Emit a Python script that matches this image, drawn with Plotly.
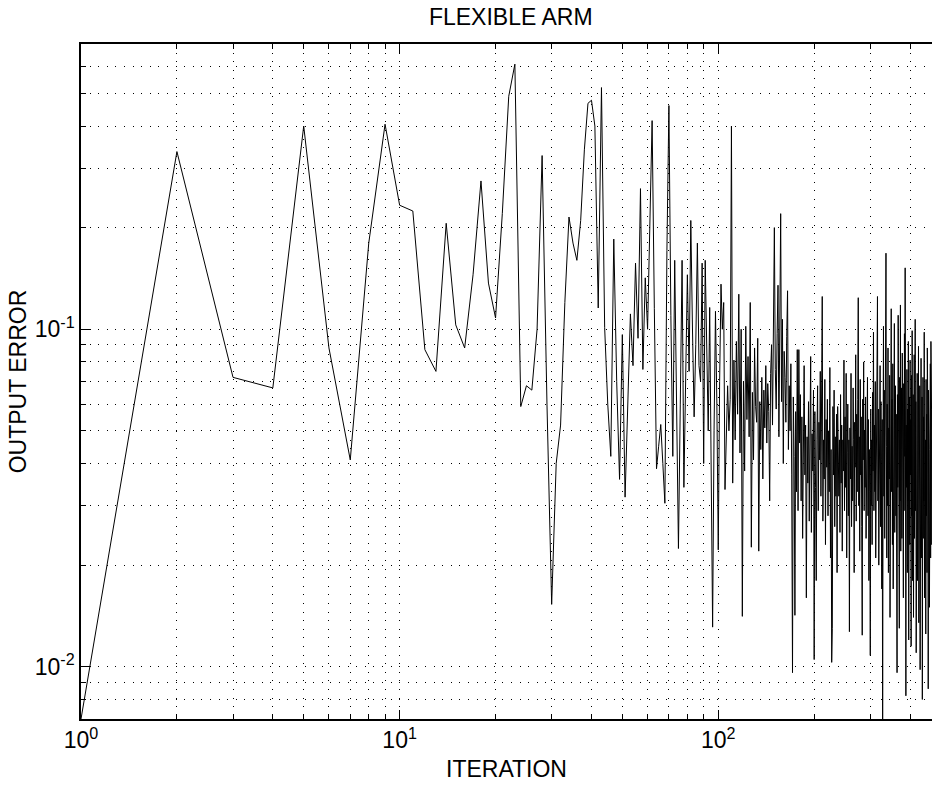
import plotly.graph_objs as go

# output error per iteration (iterations 1..470)
output_error = [
    # 1-10
    0.007, 0.336, 0.072, 0.067, 0.40, 0.088, 0.041, 0.18, 0.405, 0.233,
    0.224, 0.087, 0.075, 0.206, 0.103, 0.088, 0.145, 0.275, 0.137, 0.108,
    0.22, 0.49, 0.61, 0.059, 0.068, 0.066, 0.10, 0.327, 0.06, 0.0153,
    0.04, 0.052, 0.12, 0.215, 0.18, 0.16, 0.21, 0.34, 0.467, 0.477,
    # 41-50
    0.40, 0.1156, 0.52, 0.101, 0.06, 0.042, 0.185, 0.07, 0.0359, 0.0964,
    0.0318, 0.065, 0.111, 0.078, 0.157, 0.094, 0.261, 0.076, 0.142, 0.10,
    0.20, 0.415, 0.115, 0.0386, 0.045, 0.0522, 0.04, 0.0305, 0.171, 0.46,
    0.11, 0.042, 0.16, 0.06, 0.0224, 0.06, 0.16, 0.034, 0.07, 0.145,
    0.075, 0.21, 0.10, 0.055, 0.09, 0.18, 0.078, 0.07, 0.157, 0.040,
    # 91-100
    0.16, 0.09, 0.05, 0.116, 0.03, 0.0131, 0.05, 0.113, 0.06, 0.0222,
    0.07, 0.136, 0.10, 0.12, 0.0335, 0.05, 0.068, 0.05, 0.062, 0.40,
    0.035, 0.081, 0.047, 0.092, 0.056, 0.127, 0.043, 0.100, 0.0141, 0.070,
    0.038, 0.102, 0.054, 0.083, 0.048, 0.120, 0.0226, 0.065, 0.041, 0.088,
    0.059, 0.053, 0.094, 0.022, 0.061, 0.044, 0.072, 0.036, 0.066, 0.051,
    # 141-150
    0.078, 0.046, 0.069, 0.057, 0.031, 0.074, 0.090, 0.052, 0.118, 0.200,
    0.076, 0.058, 0.097, 0.135, 0.048, 0.083, 0.220, 0.061, 0.107, 0.040,
    0.086, 0.072, 0.053, 0.095, 0.130, 0.044, 0.068, 0.050, 0.079, 0.037,
    0.0096, 0.063, 0.042, 0.0142, 0.057, 0.033, 0.087, 0.029, 0.087, 0.046,
    0.064, 0.031, 0.055, 0.024, 0.069, 0.078, 0.037, 0.052, 0.016, 0.048,
    # 191-200
    0.035, 0.061, 0.027, 0.058, 0.083, 0.025, 0.049, 0.038, 0.066, 0.0105,
    0.057, 0.034, 0.018, 0.047, 0.068, 0.029, 0.053, 0.041, 0.075, 0.032,
    0.060, 0.125, 0.027, 0.047, 0.036, 0.071, 0.023, 0.054, 0.039, 0.062,
    0.028, 0.050, 0.033, 0.077, 0.021, 0.044, 0.0103, 0.013, 0.059, 0.037,
    0.066, 0.026, 0.048, 0.032, 0.056, 0.019, 0.059, 0.040, 0.032, 0.047,
    # 241-250
    0.025, 0.064, 0.035, 0.052, 0.022, 0.047, 0.038, 0.081, 0.029, 0.055,
    0.034, 0.074, 0.021, 0.043, 0.060, 0.028, 0.047, 0.0127, 0.051, 0.036,
    0.074, 0.026, 0.045, 0.031, 0.067, 0.047, 0.019, 0.053, 0.039, 0.084,
    0.027, 0.056, 0.033, 0.062, 0.124, 0.030, 0.048, 0.022, 0.071, 0.037,
    0.055, 0.026, 0.0124, 0.062, 0.041, 0.080, 0.029, 0.050, 0.034, 0.063,
    # 291-300
    0.024, 0.046, 0.033, 0.072, 0.028, 0.054, 0.018, 0.044, 0.033, 0.0108,
    0.058, 0.030, 0.047, 0.023, 0.065, 0.038, 0.098, 0.029, 0.052, 0.033,
    0.070, 0.021, 0.045, 0.036, 0.087, 0.125, 0.031, 0.058, 0.020, 0.049,
    0.035, 0.078, 0.026, 0.061, 0.041, 0.017, 0.054, 0.005, 0.043, 0.102,
    0.032, 0.066, 0.024, 0.094, 0.038, 0.168, 0.045, 0.021, 0.060, 0.030,
    # 341-350
    0.088, 0.019, 0.051, 0.036, 0.073, 0.014, 0.048, 0.027, 0.115, 0.033,
    0.062, 0.023, 0.079, 0.017, 0.053, 0.030, 0.104, 0.025, 0.047, 0.068,
    0.028, 0.056, 0.021, 0.0096, 0.064, 0.034, 0.110, 0.026, 0.049, 0.013,
    0.072, 0.031, 0.118, 0.022, 0.044, 0.067, 0.024, 0.085, 0.036, 0.057,
    0.016, 0.069, 0.029, 0.097, 0.042, 0.152, 0.027, 0.0082, 0.052, 0.034,
    # 391-400
    0.076, 0.019, 0.058, 0.031, 0.092, 0.012, 0.046, 0.063, 0.023, 0.081,
    0.037, 0.054, 0.0115, 0.073, 0.028, 0.099, 0.018, 0.047, 0.064, 0.014,
    0.051, 0.084, 0.024, 0.043, 0.107, 0.029, 0.061, 0.011, 0.053, 0.033,
    0.074, 0.018, 0.048, 0.027, 0.089, 0.0135, 0.057, 0.036, 0.068, 0.0098,
    0.052, 0.029, 0.082, 0.021, 0.046, 0.063, 0.008, 0.041, 0.072, 0.024,
    # 441-450
    0.055, 0.031, 0.098, 0.016, 0.059, 0.034, 0.047, 0.0125, 0.071, 0.028,
    0.056, 0.019, 0.088, 0.035, 0.051, 0.0086, 0.066, 0.030, 0.044, 0.015,
    0.062, 0.027, 0.079, 0.021, 0.092, 0.034, 0.058, 0.023, 0.047, 0.031,
]
iteration = list(range(1, len(output_error) + 1))

x_major = [1, 10, 100]
x_major_text = ['10<sup>0</sup>', '10<sup>1</sup>', '10<sup>2</sup>']
x_minor = [2, 3, 4, 5, 6, 7, 8, 9,
           20, 30, 40, 50, 60, 70, 80, 90,
           200, 300, 400]
y_major = [0.01, 0.1]
y_major_text = ['10<sup>-2</sup>', '10<sup>-1</sup>']
y_minor = [0.008, 0.009,
           0.02, 0.03, 0.04, 0.05, 0.06, 0.07, 0.08, 0.09,
           0.2, 0.3, 0.4, 0.5, 0.6]

font = 'Liberation Sans, Arial, sans-serif'
dots = '1px,7.6px'

trace = go.Scatter(x=iteration,
                   y=output_error,
                   mode='lines',
                   line=dict(color='black', width=1),
                   showlegend=False)

layout = go.Layout(
    width=932,
    height=785,
    margin=dict(l=81, r=0, t=44, b=66),
    paper_bgcolor='white',
    plot_bgcolor='white',
    font=dict(family=font, size=23, color='black'),
    title=dict(text='FLEXIBLE ARM', x=0.505, xref='paper', xanchor='center',
               y=0.979, yref='container', yanchor='middle',
               font=dict(family=font, size=23, color='black')),
    xaxis=dict(type='log',
               range=[0, 2.6708],
               tickmode='array', tickvals=x_major, ticktext=x_major_text,
               ticks='inside', ticklen=9, tickwidth=1, tickcolor='black',
               showline=True, linecolor='black', linewidth=1.5, mirror='ticks',
               showgrid=True, gridcolor='black', gridwidth=1, griddash=dots,
               zeroline=False,
               minor=dict(tickmode='array', tickvals=x_minor,
                          ticks='inside', ticklen=5, tickcolor='black',
                          showgrid=True, gridcolor='black', gridwidth=1, griddash=dots),
               title=dict(text='ITERATION', standoff=9,
                          font=dict(family=font, size=23))),
    yaxis=dict(type='log',
               range=[-2.1549, -0.1549],
               tickmode='array', tickvals=y_major, ticktext=y_major_text,
               ticks='inside', ticklen=9, tickwidth=1, tickcolor='black',
               showline=True, linecolor='black', linewidth=1.5, mirror=False,
               showgrid=True, gridcolor='black', gridwidth=1, griddash=dots,
               zeroline=False,
               minor=dict(tickmode='array', tickvals=y_minor,
                          ticks='inside', ticklen=5, tickcolor='black',
                          showgrid=True, gridcolor='black', gridwidth=1, griddash=dots),
               title=dict(text='OUTPUT ERROR', standoff=2,
                          font=dict(family=font, size=23))),
)

fig = go.Figure(data=[trace], layout=layout)
# drop the default 8px body margin so the figure sits at the page corner
fig.write_html('out.html',
               config={'displayModeBar': False},
               post_script="document.body.style.margin='0';document.body.style.overflow='hidden';")
